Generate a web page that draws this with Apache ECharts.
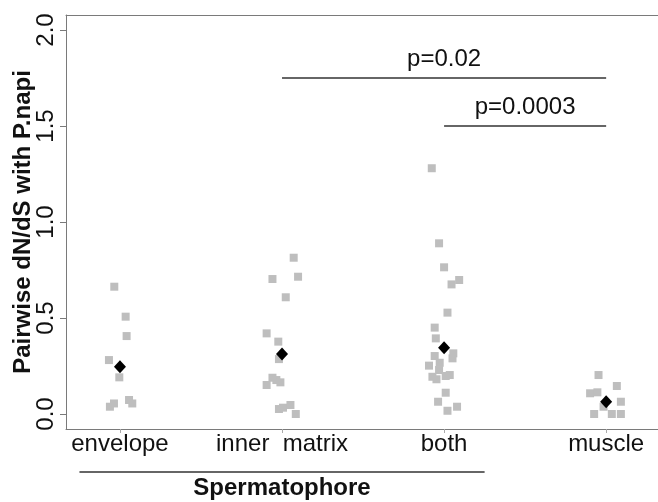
<!DOCTYPE html>
<html>
<head>
<meta charset="utf-8">
<script src="https://cdn.jsdelivr.net/npm/echarts@6/dist/echarts.min.js"></script>
<style>
  html, body { margin: 0; padding: 0; background: #fff; }
  #chart { width: 658px; height: 502px; }
</style>
</head>
<body>
<div id="chart"></div>
<script>
// ---- data ----
const categories = ['envelope', 'inner  matrix', 'both', 'muscle'];
const yTicks = [0, 0.5, 1, 1.5, 2];

const envelopeY      = [0.663, 0.507, 0.406, 0.281, 0.191, 0.038, 0.055, 0.073, 0.055];
const envelopeJitter = [-0.035, 0.035, 0.041, -0.068, -0.004, -0.062, -0.037, 0.056, 0.076];

const innerY      = [0.814, 0.715, 0.703, 0.608, 0.420, 0.377, 0.286, 0.189, 0.177, 0.165, 0.151, 0.026, 0.033, 0.047, 0.000];
const innerJitter = [0.072, 0.099, -0.059, 0.023, -0.095, -0.023, -0.019, -0.059, -0.035, -0.010, -0.095, -0.019, 0.006, 0.052, 0.085];

const bothY      = [1.280, 0.889, 0.764, 0.698, 0.675, 0.528, 0.450, 0.394, 0.316, 0.290, 0.302, 0.267, 0.252, 0.229, 0.203, 0.194, 0.181, 0.198, 0.111, 0.064, 0.017, 0.038];
const bothJitter = [-0.076, -0.031, 0.000, 0.093, 0.046, 0.021, -0.058, -0.051, 0.057, 0.052, -0.058, -0.027, -0.093, -0.031, 0.035, -0.072, -0.047, 0.010, 0.010, -0.037, 0.021, 0.080];

const muscleY      = [0.203, 0.146, 0.108, 0.113, 0.064, 0.038, 0.000, 0.000, 0.000];
const muscleJitter = [-0.047, 0.066, -0.099, -0.054, 0.091, -0.016, -0.074, 0.035, 0.091];

const meanValues = [0.246, 0.3125, 0.345, 0.064];

// significance brackets: [fromCategory, toCategory, y]
const bracketA = [2, 4, 1.75];
const bracketB = [3, 4, 1.5];
const pLabels = ['p=0.02', 'p=0.0003'];
// group bracket below the axis (category span)
const groupSpan = [0.75, 3.25];
const groupLabel = 'Spermatophore';

// ---- build ----
const groups = [
  [envelopeY, envelopeJitter],
  [innerY, innerJitter],
  [bothY, bothJitter],
  [muscleY, muscleJitter]
];
const pointData = [];
groups.forEach(([ys, js], i) => {
  ys.forEach((y, k) => pointData.push([i + 1 + js[k], y]));
});
const meanData = meanValues.map((m, i) => [i + 1, m]);

const FONT = '"Liberation Sans", Arial, Helvetica, sans-serif';
const AXIS_COLOR = '#7a7a7a';
const X_MIN = 0.667, X_MAX = 4.32;
const Y_MIN = -0.078, Y_MAX = 2.078;

const chart = echarts.init(document.getElementById('chart'), null, { renderer: 'canvas' });

const option = {
  animation: false,
  backgroundColor: '#ffffff',
  textStyle: { fontFamily: FONT },
  grid: { left: 66, top: 15, right: 0, bottom: 73, containLabel: false, outerBoundsMode: 'none' },
  xAxis: [
    {
      type: 'value', min: X_MIN, max: X_MAX, position: 'bottom',
      axisLine: { show: true, onZero: false, lineStyle: { color: AXIS_COLOR, width: 1 } },
      axisTick: { show: true, customValues: [1, 2, 3, 4], length: 4, lineStyle: { color: '#aaaaaa' } },
      axisLabel: {
        show: true, customValues: [1, 2, 3, 4], margin: 3,
        formatter: v => categories[Math.round(v) - 1] || '',
        fontFamily: FONT, fontSize: 24, color: '#111'
      },
      splitLine: { show: false }
    },
    {
      type: 'value', min: X_MIN, max: X_MAX, position: 'top',
      axisLine: { show: true, onZero: false, lineStyle: { color: AXIS_COLOR, width: 1 } },
      axisTick: { show: false }, axisLabel: { show: false }, splitLine: { show: false }
    }
  ],
  yAxis: {
    type: 'value', min: Y_MIN, max: Y_MAX,
    name: 'Pairwise dN/dS with P.napi', nameLocation: 'middle', nameGap: 31,
    nameMoveOverlap: false,
    nameTextStyle: { fontFamily: FONT, fontSize: 24, fontWeight: 'bold', color: '#111' },
    axisLine: { show: true, onZero: false, lineStyle: { color: AXIS_COLOR, width: 1 } },
    axisTick: { show: true, customValues: yTicks, length: 6, lineStyle: { color: AXIS_COLOR } },
    axisLabel: {
      show: true, customValues: yTicks, rotate: 90, margin: 8,
      formatter: v => v.toFixed(1),
      fontFamily: FONT, fontSize: 24, color: '#111'
    },
    splitLine: { show: false }
  },
  series: [
    {
      name: 'points', type: 'scatter', data: pointData,
      symbol: 'rect', symbolSize: 8,
      itemStyle: { color: '#bebebe', opacity: 1 }, z: 2
    },
    {
      name: 'mean', type: 'scatter', data: meanData,
      symbol: 'diamond', symbolSize: [12, 13],
      itemStyle: { color: '#000000', opacity: 1 }, z: 3
    },
    {
      name: 'bracketA', type: 'line', data: [[bracketA[0], bracketA[2]], [bracketA[1], bracketA[2]]],
      symbol: 'none', lineStyle: { color: '#333', width: 1.5 }, z: 1
    },
    {
      name: 'bracketB', type: 'line', data: [[bracketB[0], bracketB[2]], [bracketB[1], bracketB[2]]],
      symbol: 'none', lineStyle: { color: '#333', width: 1.5 }, z: 1
    },
    {
      name: 'pvalues', type: 'scatter', symbolSize: 0,
      itemStyle: { opacity: 1 },
      data: [
        { value: [(bracketA[0] + bracketA[1]) / 2, bracketA[2] + 0.097], label: { formatter: pLabels[0] } },
        { value: [(bracketB[0] + bracketB[1]) / 2, bracketB[2] + 0.097], label: { formatter: pLabels[1] } }
      ],
      label: {
        show: true, position: 'inside', align: 'center', verticalAlign: 'middle',
        fontFamily: FONT, fontSize: 24, color: '#111', opacity: 1
      },
      z: 4
    }
  ]
};
chart.setOption(option);

// group bracket under the axis, positioned with the x scale
const gx0 = chart.convertToPixel({ xAxisIndex: 0 }, groupSpan[0]);
const gx1 = chart.convertToPixel({ xAxisIndex: 0 }, groupSpan[1]);
const gxc = chart.convertToPixel({ xAxisIndex: 0 }, (groupSpan[0] + groupSpan[1]) / 2);
chart.setOption({
  graphic: [
    { type: 'line', shape: { x1: gx0, y1: 472, x2: gx1, y2: 472 }, style: { stroke: '#333', lineWidth: 1.5 } },
    { type: 'text', x: gxc, y: 488, style: { text: groupLabel, font: 'bold 24px ' + FONT, fill: '#111', textAlign: 'center', textVerticalAlign: 'middle' } }
  ]
});
</script>
</body>
</html>
